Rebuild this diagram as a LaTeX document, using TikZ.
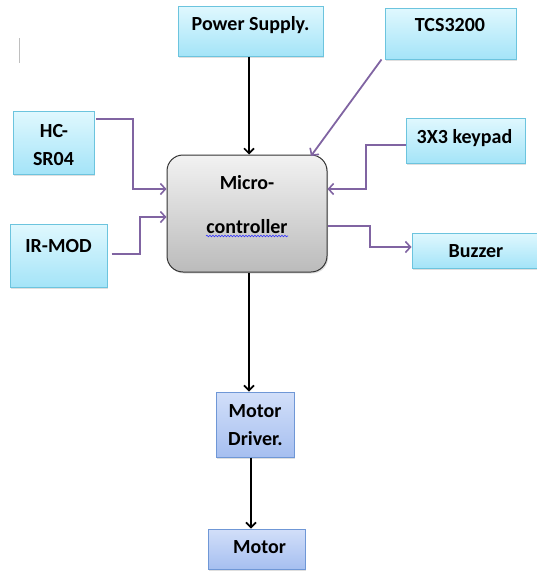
\documentclass[tikz,border=0pt]{standalone}
\usepackage{fontspec}
\setmainfont{Carlito}
\usetikzlibrary{arrows.meta,shadows,decorations.pathmorphing}
\definecolor{cyantop}{HTML}{E0F8FE}
\definecolor{cyanbot}{HTML}{A4E4F8}
\definecolor{cyanline}{HTML}{6CC4DE}
\definecolor{bluetop}{HTML}{D2DFF9}
\definecolor{bluebot}{HTML}{A6BFF0}
\definecolor{blueline}{HTML}{6F97D6}
\definecolor{graytop}{HTML}{F2F2F2}
\definecolor{graybot}{HTML}{BBBBBB}
\definecolor{purp}{HTML}{8064A2}
\tikzset{
  boxshadow/.style={drop shadow={opacity=0.25,shadow xshift=1.2pt,shadow yshift=-1.5pt}},
  cyanbox/.style={draw=cyanline,line width=1pt,top color=cyantop,bottom color=cyanbot,boxshadow,inner sep=0pt},
  bluebox/.style={draw=blueline,line width=1pt,top color=bluetop,bottom color=bluebot,boxshadow,inner sep=0pt},
  mcubox/.style={draw=black!80,line width=1pt,rounded corners=16pt,top color=graytop,bottom color=graybot,boxshadow,inner sep=0pt},
  lbl/.style={anchor=base,inner sep=0pt,font=\fontsize{20}{24}\selectfont\bfseries},
  parrow/.style={draw=purp,line width=1.8pt,-{Straight Barb[length=5pt,width=11pt,line width=1.6pt]}},
  pline/.style={draw=purp,line width=1.8pt},
  barrow/.style={draw=black,line width=1.8pt,-{Straight Barb[length=5pt,width=10pt,line width=1.6pt]}}
}
\begin{document}
\begin{tikzpicture}[x=1pt,y=-1pt]
\useasboundingbox (0,0) rectangle (537,573);
% boxes
\node[cyanbox,minimum width=145pt,minimum height=50pt] (ps) at (250.5,31) {};
\node[cyanbox,minimum width=131pt,minimum height=51pt] (tcs) at (450.5,33.5) {};
\node[cyanbox,minimum width=81pt,minimum height=63pt] (hc) at (53.5,142.5) {};
\node[cyanbox,minimum width=97pt,minimum height=63pt] (ir) at (58.5,255.5) {};
\node[cyanbox,minimum width=119pt,minimum height=45pt] (kp) at (465.5,140.5) {};
\node[cyanbox,minimum width=130pt,minimum height=35pt] (bz) at (477,250.5) {};
\node[mcubox,minimum width=160pt,minimum height=117pt] (mc) at (247,213.5) {};
\node[bluebox,minimum width=78pt,minimum height=65pt] (md) at (255,424.5) {};
\node[bluebox,minimum width=97pt,minimum height=40pt] (mo) at (256.5,549) {};
% labels
\node[lbl] (tps) at (250.5,30) {Power Supply.};
\node[lbl] (ttcs) at (450,31.5) {TCS3200};
\node[lbl] (thc1) at (54,137) {HC-};
\node[lbl] (thc2) at (53.5,165) {SR04};
\node[lbl] (tir) at (58.5,252) {IR-MOD};
\node[lbl] (tkp) at (464.5,143) {3X3 keypad};
\node[lbl] (tbz) at (476,257) {Buzzer};
\node[lbl] (tmc1) at (247,189) {Micro-};
\node[lbl] (tmc2) at (247,233) {controller};
\node[lbl] (tmd1) at (255,417) {Motor};
\node[lbl] (tmd2) at (255.5,445) {Driver.};
\node[lbl] (tmo) at (259.5,553) {Motor};
% spell-check underline
\coordinate (ul1) at (206,236);
\coordinate (ul2) at (288,236);
\draw[blue!80,line width=0.6pt,decorate,decoration={snake,amplitude=0.8pt,segment length=3pt}] (ul1) -- (ul2);
% stray cursor mark
\coordinate (cm1) at (19,38);
\coordinate (cm2) at (19,63);
\draw[gray!50,line width=0.8pt] (cm1) -- (cm2);
% bend points
\coordinate (hcb) at (133,189);
\coordinate (irb) at (140,217);
\coordinate (kpb) at (366,189);
\coordinate (bzb) at (370,247);
\coordinate (tcsend) at (311,156);
\coordinate (x249) at (249,0);
\coordinate (x251) at (251,0);
% connectors
\draw[barrow] (ps.south -| x249) -- (mc.north -| x249);
\draw[parrow] ([xshift=-3pt]tcs.south west) -- (tcsend);
\draw[parrow] ([yshift=23.5pt,xshift=1.5pt]hc.east) -| (hcb) -- (hcb -| mc.west);
\draw[parrow] ([yshift=1.5pt,xshift=4pt]ir.east) -| (irb) -- (irb -| mc.west);
\draw[parrow] ([yshift=-4.5pt]kp.west) -| (kpb) -- (kpb -| mc.east);
\draw[parrow] (mc.east |- {(0,226)}) -| (bzb) -- (bzb -| bz.west);
\draw[barrow] (mc.south -| x249) -- (md.north -| x249);
\draw[barrow] (md.south -| x251) -- (mo.north -| x251);
\end{tikzpicture}
\end{document}
